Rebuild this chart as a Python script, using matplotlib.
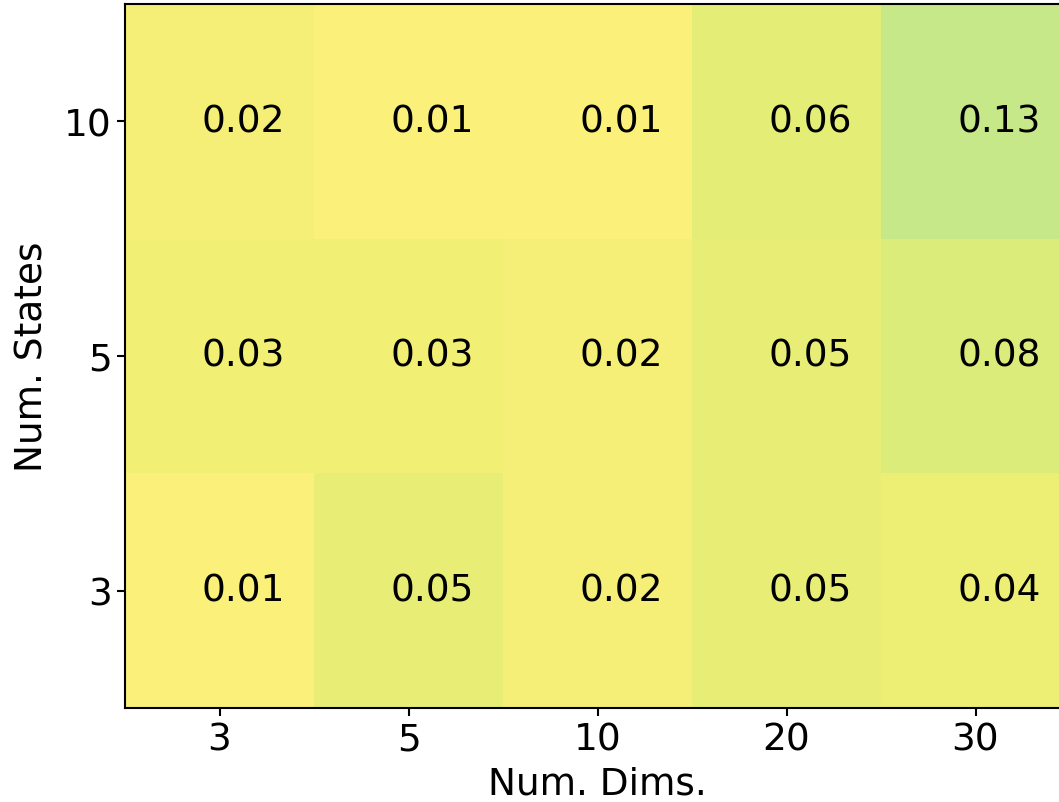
import numpy as np
import matplotlib
matplotlib.use("Agg")
import matplotlib.pyplot as plt

dims = ["3", "5", "10", "20", "30"]
states = ["3", "5", "10"]
# rows: 3, 5, 10 states (bottom to top)
err_3 = [0.01, 0.05, 0.02, 0.05, 0.04]
err_5 = [0.03, 0.03, 0.02, 0.05, 0.08]
err_10 = [0.02, 0.01, 0.01, 0.06, 0.13]

vals = np.array([err_3, err_5, err_10])

fig = plt.figure(figsize=(10.59, 8.03), dpi=100)
ax = fig.add_axes([125 / 1059, 94 / 803, 945 / 1059, 704 / 803])

ax.pcolormesh(np.arange(len(dims) + 1) - 0.5, np.arange(len(states) + 1) - 0.5,
              vals, cmap="viridis_r", vmin=0, vmax=0.9, alpha=0.6)

for i in range(len(states)):
    for j in range(len(dims)):
        ax.text(j + 0.125, i, f"{vals[i, j]:.2f}", ha="center", va="center",
                fontsize=27, color="black")

ax.set_xticks(range(len(dims)))
ax.set_xticklabels(dims)
ax.set_yticks(range(len(states)))
ax.set_yticklabels(states)
ax.set_xlim(-0.5, len(dims) - 0.5)
ax.set_ylim(-0.5, len(states) - 0.5)
ax.tick_params(labelsize=27, width=1.5, length=6)
for s in ax.spines.values():
    s.set_linewidth(1.5)
ax.set_xlabel("Num. Dims.", fontsize=27, labelpad=6)
ax.set_ylabel("Num. States", fontsize=27, labelpad=10)

fig.savefig("out.png", dpi=100)
